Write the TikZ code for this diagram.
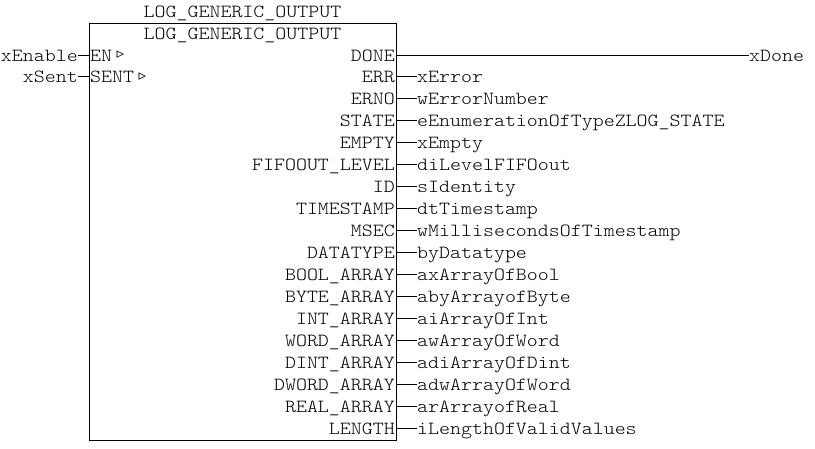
\documentclass[tikz,border=0pt]{standalone}
\usepackage{fontspec}
\usepackage{tikz}
\usetikzlibrary{positioning}
\newfontfamily\plcfont[FakeStretch=1.13]{lmmonolt10-regular.otf}
\newfontfamily\symfont{DejaVu Sans}

\begin{document}
\begin{tikzpicture}[
    x=1pt,y=-1pt,
    fblock/.style={rectangle,draw,line width=0.9pt,inner sep=0pt,outer sep=0pt,
                   minimum width=307pt,minimum height=417pt},
    txt/.style={font=\fontsize{18.5}{22}\plcfont,inner sep=0pt,
                text height=12pt,text depth=0pt},
    pinr/.style={txt,anchor=east},
    pinl/.style={txt,anchor=west},
    sigout/.style={txt,anchor=west},
    sigin/.style={txt,anchor=east},
    tri/.style={font=\fontsize{15}{15}\symfont,inner sep=0pt},
    wire/.style={line width=0.9pt}
  ]
  \useasboundingbox (0,0) rectangle (815,448);
  %% Function block and its titles
  \node[fblock,anchor=north west] (fb) at (89,23) {};
  \node[txt] (ttlout) at (242.5,11) {LOG\_GENERIC\_OUTPUT};
  \node[txt] (ttlin)  at (242.5,33) {LOG\_GENERIC\_OUTPUT};
  %% Inputs
  \node[pinl] (en)   at (90,55)   {EN};
  \node[tri,right=4pt of en] (entri) {▹};
  \node[pinl] (sent) at (90,76.9) {SENT};
  \node[tri,right=4pt of sent] (senttri) {▹};
  \node[sigin] (xEnable) at (78,55)   {xEnable};
  \node[sigin] (xSent)   at (78,76.9) {xSent};
  \draw[wire] (xEnable.east) -- (fb.west |- en);
  \draw[wire] (xSent.east) -- (fb.west |- sent);
  %% Outputs
  \node[pinr] (done) at (395,55) {DONE};
  \node[sigout] (xDone) at (749,55) {xDone};
  \draw[wire] (fb.east |- done) -- (xDone.west);
  \node[pinr] (err) at (395,76.9) {ERR};
  \node[sigout] (xError) at (417,76.9) {xError};
  \draw[wire] (fb.east |- err) -- (xError.west);
  \node[pinr] (erno) at (395,98.9) {ERNO};
  \node[sigout] (wErrNo) at (417,98.9) {wErrorNumber};
  \draw[wire] (fb.east |- erno) -- (wErrNo.west);
  \node[pinr] (state) at (395,120.8) {STATE};
  \node[sigout] (eState) at (417,120.8) {eEnumerationOfTypeZLOG\_STATE};
  \draw[wire] (fb.east |- state) -- (eState.west);
  \node[pinr] (empty) at (395,142.8) {EMPTY};
  \node[sigout] (xEmpty) at (417,142.8) {xEmpty};
  \draw[wire] (fb.east |- empty) -- (xEmpty.west);
  \node[pinr] (fifo) at (395,164.7) {FIFOOUT\_LEVEL};
  \node[sigout] (diFifo) at (417,164.7) {diLevelFIFOout};
  \draw[wire] (fb.east |- fifo) -- (diFifo.west);
  \node[pinr] (id) at (395,186.6) {ID};
  \node[sigout] (sId) at (417,186.6) {sIdentity};
  \draw[wire] (fb.east |- id) -- (sId.west);
  \node[pinr] (tstamp) at (395,208.6) {TIMESTAMP};
  \node[sigout] (dtStamp) at (417,208.6) {dtTimestamp};
  \draw[wire] (fb.east |- tstamp) -- (dtStamp.west);
  \node[pinr] (msec) at (395,230.5) {MSEC};
  \node[sigout] (wMsec) at (417,230.5) {wMillisecondsOfTimestamp};
  \draw[wire] (fb.east |- msec) -- (wMsec.west);
  \node[pinr] (dtype) at (395,252.5) {DATATYPE};
  \node[sigout] (byType) at (417,252.5) {byDatatype};
  \draw[wire] (fb.east |- dtype) -- (byType.west);
  \node[pinr] (boolarr) at (395,274.4) {BOOL\_ARRAY};
  \node[sigout] (axBool) at (417,274.4) {axArrayOfBool};
  \draw[wire] (fb.east |- boolarr) -- (axBool.west);
  \node[pinr] (bytearr) at (395,296.3) {BYTE\_ARRAY};
  \node[sigout] (abyByte) at (417,296.3) {abyArrayofByte};
  \draw[wire] (fb.east |- bytearr) -- (abyByte.west);
  \node[pinr] (intarr) at (395,318.3) {INT\_ARRAY};
  \node[sigout] (aiInt) at (417,318.3) {aiArrayOfInt};
  \draw[wire] (fb.east |- intarr) -- (aiInt.west);
  \node[pinr] (wordarr) at (395,340.2) {WORD\_ARRAY};
  \node[sigout] (awWord) at (417,340.2) {awArrayOfWord};
  \draw[wire] (fb.east |- wordarr) -- (awWord.west);
  \node[pinr] (dintarr) at (395,362.2) {DINT\_ARRAY};
  \node[sigout] (adiDint) at (417,362.2) {adiArrayOfDint};
  \draw[wire] (fb.east |- dintarr) -- (adiDint.west);
  \node[pinr] (dwordarr) at (395,384.1) {DWORD\_ARRAY};
  \node[sigout] (adwWord) at (417,384.1) {adwArrayOfWord};
  \draw[wire] (fb.east |- dwordarr) -- (adwWord.west);
  \node[pinr] (realarr) at (395,406) {REAL\_ARRAY};
  \node[sigout] (arReal) at (417,406) {arArrayofReal};
  \draw[wire] (fb.east |- realarr) -- (arReal.west);
  \node[pinr] (len) at (395,428) {LENGTH};
  \node[sigout] (iLen) at (417,428) {iLengthOfValidValues};
  \draw[wire] (fb.east |- len) -- (iLen.west);
\end{tikzpicture}
\end{document}
